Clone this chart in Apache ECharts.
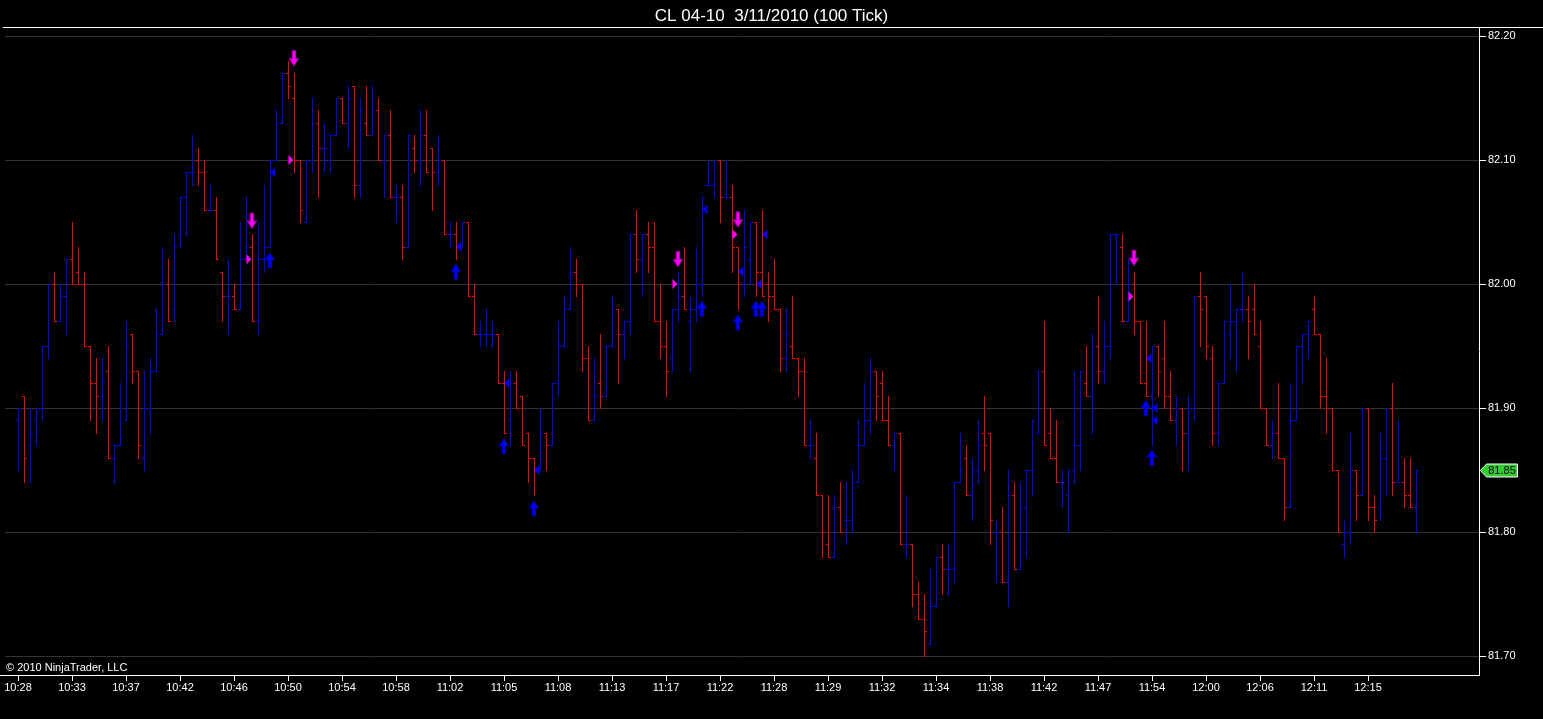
<!DOCTYPE html>
<html>
<head>
<meta charset="utf-8">
<title>CL 04-10 3/11/2010 (100 Tick)</title>
<script src="https://cdn.jsdelivr.net/npm/echarts@6/dist/echarts.min.js"></script>
<style>
  html, body { margin: 0; padding: 0; background: #000; }
  #chart { width: 1543px; height: 719px; }
</style>
</head>
<body>
<div id="chart"></div>
<script>
// 100 tick bars, one entry per bar (bar index = position in array)
var opens = [
  81.89, 81.91, 81.87, 81.89, 81.90, 81.95, 82.00, 81.97, 81.99, 82.02, 82.01, 82.00, 81.95, 81.92, 81.91, 81.93, 81.86, 81.87, 81.89, 81.96,
  81.93, 81.86, 81.90, 81.93, 81.96, 82.00, 81.98, 82.04, 82.07, 82.09, 82.10, 82.09, 82.06, 82.06, 82.01, 81.99, 81.99, 81.98, 82.02, 82.03,
  81.97, 82.02, 82.03, 82.10, 82.13, 82.17, 82.15, 82.10, 82.05, 82.10, 82.13, 82.11, 82.10, 82.12, 82.15, 82.13, 82.16, 82.08, 82.13, 82.12,
  82.14, 82.10, 82.12, 82.07, 82.07, 82.03, 82.11, 82.10, 82.12, 82.11, 82.09, 82.10, 82.04, 82.04, 82.03, 82.05, 81.99, 81.96, 81.96, 81.96,
  81.96, 81.92, 81.89, 81.92, 81.91, 81.88, 81.86, 81.85, 81.88, 81.87, 81.92, 81.95, 81.98, 82.01, 82.00, 81.94, 81.89, 81.92, 81.91, 81.95,
  81.98, 81.96, 81.97, 82.04, 82.02, 82.04, 82.03, 81.97, 81.95, 81.94, 81.98, 81.99, 81.97, 81.98, 82.00, 82.08, 82.08, 82.10, 82.07, 82.07,
  82.03, 82.00, 82.02, 82.05, 82.01, 82.00, 81.99, 81.98, 81.94, 81.95, 81.94, 81.93, 81.87, 81.86, 81.83, 81.79, 81.78, 81.82, 81.81, 81.81,
  81.84, 81.87, 81.89, 81.93, 81.92, 81.89, 81.87, 81.88, 81.79, 81.79, 81.75, 81.73, 81.71, 81.74, 81.78, 81.77, 81.77, 81.84, 81.86, 81.83,
  81.85, 81.88, 81.88, 81.80, 81.80, 81.76, 81.83, 81.77, 81.82, 81.85, 81.88, 81.93, 81.88, 81.86, 81.84, 81.83, 81.85, 81.87, 81.92, 81.91,
  81.95, 81.93, 81.95, 82.04, 82.03, 81.97, 82.00, 81.97, 81.92, 81.91, 81.95, 81.94, 81.91, 81.89, 81.90, 81.88, 81.90, 81.99, 81.99, 81.94,
  81.88, 81.92, 81.96, 81.97, 81.98, 81.98, 81.98, 81.95, 81.90, 81.87, 81.88, 81.86, 81.82, 81.89, 81.95, 81.96, 81.98, 81.96, 81.91, 81.90,
  81.85, 81.79, 81.80, 81.85, 81.83, 81.90, 81.82, 81.82, 81.86, 81.90, 81.84, 81.84, 81.83, 81.82
];
var highs = [
  81.90, 81.91, 81.90, 81.90, 81.95, 82.00, 82.01, 82.00, 82.02, 82.05, 82.03, 82.01, 81.95, 81.94, 81.94, 81.95, 81.87, 81.92, 81.97, 81.96,
  81.93, 81.93, 81.94, 81.98, 82.03, 82.02, 82.04, 82.07, 82.09, 82.12, 82.11, 82.10, 82.08, 82.07, 82.01, 82.02, 82.00, 82.05, 82.07, 82.04,
  82.05, 82.08, 82.10, 82.14, 82.17, 82.18, 82.17, 82.10, 82.10, 82.15, 82.14, 82.13, 82.12, 82.15, 82.15, 82.16, 82.16, 82.15, 82.16, 82.16,
  82.15, 82.12, 82.14, 82.08, 82.08, 82.12, 82.12, 82.14, 82.14, 82.11, 82.12, 82.10, 82.05, 82.05, 82.05, 82.05, 82.00, 81.97, 81.98, 81.97,
  81.96, 81.93, 81.93, 81.93, 81.91, 81.88, 81.86, 81.90, 81.88, 81.92, 81.97, 81.99, 82.03, 82.02, 82.00, 81.95, 81.94, 81.96, 81.95, 81.99,
  81.98, 81.97, 82.04, 82.06, 82.04, 82.05, 82.05, 82.00, 81.97, 81.98, 82.01, 82.03, 81.99, 82.03, 82.07, 82.10, 82.10, 82.10, 82.10, 82.08,
  82.03, 82.06, 82.05, 82.05, 82.06, 82.01, 82.02, 81.98, 81.98, 81.99, 81.94, 81.94, 81.89, 81.88, 81.83, 81.83, 81.83, 81.84, 81.84, 81.85,
  81.89, 81.92, 81.94, 81.93, 81.93, 81.91, 81.88, 81.88, 81.83, 81.79, 81.76, 81.75, 81.77, 81.78, 81.79, 81.79, 81.84, 81.88, 81.87, 81.86,
  81.89, 81.91, 81.88, 81.81, 81.82, 81.85, 81.84, 81.84, 81.85, 81.89, 81.93, 81.97, 81.90, 81.89, 81.85, 81.85, 81.93, 81.93, 81.95, 81.96,
  81.99, 81.97, 82.04, 82.04, 82.04, 82.02, 82.01, 81.97, 81.97, 81.95, 81.95, 81.97, 81.93, 81.91, 81.90, 81.91, 81.99, 82.01, 81.99, 81.95,
  81.92, 81.97, 82.00, 81.98, 82.01, 81.99, 82.00, 81.97, 81.90, 81.89, 81.92, 81.86, 81.92, 81.95, 81.96, 81.97, 81.99, 81.96, 81.94, 81.90,
  81.85, 81.81, 81.88, 81.85, 81.90, 81.90, 81.83, 81.88, 81.90, 81.92, 81.89, 81.86, 81.86, 81.85
];
var lows = [
  81.85, 81.84, 81.84, 81.87, 81.89, 81.94, 81.97, 81.97, 81.96, 82.00, 82.00, 81.95, 81.89, 81.88, 81.89, 81.86, 81.84, 81.87, 81.89, 81.92,
  81.86, 81.85, 81.88, 81.93, 81.96, 81.97, 81.97, 82.03, 82.04, 82.08, 82.08, 82.06, 82.06, 82.02, 81.97, 81.96, 81.98, 81.98, 82.02, 81.97,
  81.96, 82.01, 82.03, 82.10, 82.13, 82.15, 82.09, 82.05, 82.05, 82.09, 82.07, 82.09, 82.09, 82.12, 82.13, 82.11, 82.07, 82.07, 82.12, 82.12,
  82.10, 82.07, 82.07, 82.05, 82.02, 82.03, 82.09, 82.08, 82.09, 82.06, 82.08, 82.04, 82.03, 82.02, 82.03, 81.99, 81.96, 81.95, 81.95, 81.95,
  81.92, 81.88, 81.87, 81.90, 81.87, 81.84, 81.83, 81.85, 81.85, 81.87, 81.91, 81.95, 81.98, 81.99, 81.93, 81.89, 81.89, 81.90, 81.91, 81.95,
  81.92, 81.94, 81.96, 82.01, 81.99, 82.01, 81.97, 81.94, 81.91, 81.93, 81.97, 81.98, 81.93, 81.97, 81.99, 82.08, 82.07, 82.05, 82.07, 82.01,
  81.98, 81.99, 82.00, 81.99, 81.99, 81.97, 81.98, 81.93, 81.93, 81.94, 81.91, 81.87, 81.86, 81.83, 81.78, 81.78, 81.78, 81.80, 81.79, 81.80,
  81.84, 81.87, 81.88, 81.89, 81.89, 81.87, 81.85, 81.79, 81.78, 81.74, 81.73, 81.70, 81.71, 81.74, 81.75, 81.75, 81.76, 81.84, 81.83, 81.81,
  81.84, 81.85, 81.79, 81.76, 81.76, 81.74, 81.77, 81.77, 81.78, 81.83, 81.88, 81.87, 81.86, 81.84, 81.82, 81.80, 81.84, 81.85, 81.91, 81.88,
  81.92, 81.92, 81.94, 82.00, 81.97, 81.97, 81.96, 81.92, 81.91, 81.87, 81.91, 81.90, 81.89, 81.87, 81.85, 81.85, 81.89, 81.95, 81.94, 81.87,
  81.87, 81.92, 81.94, 81.93, 81.97, 81.94, 81.96, 81.90, 81.87, 81.86, 81.86, 81.81, 81.82, 81.89, 81.92, 81.94, 81.96, 81.90, 81.88, 81.85,
  81.80, 81.78, 81.79, 81.81, 81.83, 81.81, 81.80, 81.81, 81.83, 81.83, 81.84, 81.82, 81.82, 81.80
];
var closes = [
  81.90, 81.86, 81.88, 81.90, 81.95, 82.00, 81.97, 81.99, 82.02, 82.00, 82.00, 81.95, 81.92, 81.91, 81.92, 81.86, 81.87, 81.90, 81.95, 81.93,
  81.87, 81.90, 81.93, 81.96, 82.00, 81.97, 82.03, 82.07, 82.09, 82.09, 82.09, 82.06, 82.06, 82.02, 81.99, 81.99, 81.98, 82.02, 82.03, 81.97,
  82.02, 82.03, 82.10, 82.13, 82.17, 82.16, 82.10, 82.06, 82.10, 82.13, 82.11, 82.11, 82.12, 82.15, 82.13, 82.15, 82.08, 82.14, 82.12, 82.14,
  82.10, 82.12, 82.07, 82.07, 82.03, 82.12, 82.10, 82.12, 82.09, 82.09, 82.10, 82.04, 82.04, 82.03, 82.05, 81.99, 81.96, 81.96, 81.96, 81.96,
  81.92, 81.88, 81.92, 81.90, 81.87, 81.86, 81.85, 81.88, 81.87, 81.92, 81.95, 81.98, 82.01, 82.00, 81.94, 81.89, 81.91, 81.91, 81.95, 81.98,
  81.96, 81.97, 82.04, 82.02, 82.04, 82.03, 81.97, 81.95, 81.93, 81.98, 81.99, 81.98, 81.98, 82.00, 82.07, 82.08, 82.10, 82.07, 82.07, 82.03,
  82.00, 82.03, 82.05, 82.01, 81.99, 81.99, 81.98, 81.94, 81.96, 81.94, 81.93, 81.87, 81.87, 81.83, 81.80, 81.78, 81.82, 81.80, 81.81, 81.84,
  81.87, 81.89, 81.93, 81.91, 81.89, 81.87, 81.88, 81.79, 81.79, 81.75, 81.73, 81.72, 81.74, 81.78, 81.77, 81.77, 81.84, 81.85, 81.83, 81.85,
  81.87, 81.87, 81.81, 81.80, 81.76, 81.83, 81.77, 81.82, 81.85, 81.89, 81.93, 81.87, 81.86, 81.84, 81.84, 81.85, 81.87, 81.93, 81.91, 81.95,
  81.93, 81.95, 82.04, 82.04, 81.97, 82.00, 81.97, 81.92, 81.91, 81.95, 81.93, 81.91, 81.89, 81.90, 81.88, 81.90, 81.99, 81.98, 81.95, 81.88,
  81.92, 81.97, 81.97, 81.98, 81.98, 81.97, 81.96, 81.90, 81.87, 81.88, 81.86, 81.82, 81.89, 81.95, 81.96, 81.97, 81.96, 81.91, 81.90, 81.85,
  81.80, 81.80, 81.85, 81.83, 81.90, 81.82, 81.81, 81.86, 81.90, 81.84, 81.84, 81.83, 81.82, 81.85
];

// time labels, one every 9 bars starting at bar 0
var timeLabels = ['10:28', '10:33', '10:37', '10:42', '10:46', '10:50', '10:54', '10:58', '11:02', '11:05', '11:08', '11:13', '11:17',
  '11:22', '11:28', '11:29', '11:32', '11:34', '11:38', '11:42', '11:47', '11:54', '12:00', '12:06', '12:11', '12:15'];
var labelEvery = 9;
var priceTicks = [81.7, 81.8, 81.9, 82.0, 82.1, 82.2];

// strategy markers [bar, price]
var sellArrows = [[39, 82.051], [46, 82.182], [110, 82.020], [120, 82.052], [186, 82.021]];
var sellEntries = [[39, 82.02], [46, 82.10], [110, 82.00], [120, 82.04], [186, 81.99]];
var buyArrows = [[42, 82.019], [73, 82.010], [81, 81.869], [86, 81.819], [114, 81.980], [120, 81.969],
  [123, 81.980], [124, 81.980], [188, 81.900], [189, 81.860]];
var buyEntries = [[42, 82.09], [73, 82.03], [81, 81.92], [86, 81.85], [114, 82.06], [120, 82.01],
  [123, 82.00], [124, 82.04], [188, 81.94], [189, 81.90], [189, 81.89]];

var upColor = '#0000ff', downColor = '#ff0000', magenta = '#ff00ff';
var fontName = 'Liberation Sans, Arial, sans-serif';

var bars = [];
for (var i = 0; i < opens.length; i++) {
  bars.push([i, opens[i], highs[i], lows[i], closes[i]]);
}
var tickVals = [];
for (var k = 0; k < timeLabels.length; k++) tickVals.push(k * labelEvery);

function renderBar(params, api) {
  var idx = api.value(0), o = api.value(1), h = api.value(2), l = api.value(3), c = api.value(4);
  var top = api.coord([idx, h]);
  var bot = api.coord([idx, l]);
  var yo = Math.round(api.coord([idx, o])[1]) + 0.5;
  var yc = Math.round(api.coord([idx, c])[1]) + 0.5;
  var x = Math.round(top[0]) + 0.5;
  var col = c >= o ? upColor : downColor;
  var st = { stroke: col, lineWidth: 1 };
  return {
    type: 'group',
    children: [
      { type: 'line', shape: { x1: x, y1: Math.round(top[1]), x2: x, y2: Math.round(bot[1]) + 1 }, style: st },
      { type: 'line', shape: { x1: x - 2.5, y1: yo, x2: x, y2: yo }, style: st },
      { type: 'line', shape: { x1: x, y1: yc, x2: x + 2.5, y2: yc }, style: st }
    ]
  };
}

var downArrowPath = 'path://M3,0L7,0L7,8L10,8L5,15L0,8L3,8Z';
var upArrowPath = 'path://M5,0L10,7L7,7L7,15L3,15L3,7L0,7Z';
var rightTriPath = 'path://M0,0L5,5L0,10Z';
var leftTriPath = 'path://M5,0L0,5L5,10Z';

var chart = echarts.init(document.getElementById('chart'));
var option = {
  backgroundColor: '#000000',
  animation: false,
  title: {
    text: 'CL 04-10  3/11/2010 (100 Tick)',
    left: 'center',
    top: 3,
    textStyle: { color: '#ffffff', fontSize: 17, fontWeight: 'normal', fontFamily: fontName }
  },
  grid: { left: 5, right: 63, top: 36, bottom: 63 },
  xAxis: {
    type: 'value',
    min: -13 / 6,
    max: (1480 - 18) / 6,
    offset: 19,
    axisLine: { show: false },
    splitLine: { show: false },
    axisTick: { show: true, customValues: tickVals, length: 6, lineStyle: { color: '#ffffff' } },
    axisLabel: {
      customValues: tickVals,
      color: '#ffffff',
      fontSize: 11,
      fontFamily: fontName,
      margin: 7,
      formatter: function (v) { return timeLabels[Math.round(v / labelEvery)] || ''; }
    }
  },
  yAxis: {
    type: 'value',
    position: 'right',
    min: 81.7,
    max: 82.2,
    interval: 0.1,
    axisLine: { show: false },
    axisTick: { show: false },
    splitLine: { show: true, lineStyle: { color: '#333333', width: 1 } },
    axisLabel: {
      color: '#ffffff',
      fontSize: 11,
      fontFamily: fontName,
      margin: 8,
      formatter: function (v) { return v.toFixed(2); }
    }
  },
  series: [
    {
      type: 'custom',
      renderItem: renderBar,
      data: bars,
      encode: { x: 0, y: [1, 2, 3, 4] },
      silent: true,
      z: 2
    },
    {
      type: 'scatter', data: sellArrows, symbol: downArrowPath, symbolSize: [9, 15],
      itemStyle: { color: magenta, borderColor: '#a000a0', borderWidth: 1, opacity: 1 }, silent: true, z: 5
    },
    {
      type: 'scatter', data: buyArrows, symbol: upArrowPath, symbolSize: [9, 15],
      itemStyle: { color: upColor, borderColor: '#0000a0', borderWidth: 1, opacity: 1 }, silent: true, z: 5
    },
    {
      type: 'scatter', data: sellEntries, symbol: rightTriPath, symbolSize: [5, 10], symbolOffset: [-3, 0],
      itemStyle: { color: magenta, opacity: 1 }, silent: true, z: 5
    },
    {
      type: 'scatter', data: buyEntries, symbol: leftTriPath, symbolSize: [5, 10], symbolOffset: [3, 0],
      itemStyle: { color: upColor, opacity: 1 }, silent: true, z: 5
    }
  ]
};
chart.setOption(option);

// frame, price ticks, copyright and last price tag
var white = { stroke: '#ffffff', lineWidth: 1 };
var graphics = [
  { type: 'line', shape: { x1: 3, y1: 27.5, x2: 1543, y2: 27.5 }, style: white, z: 10 },
  { type: 'line', shape: { x1: 1479.5, y1: 27.5, x2: 1479.5, y2: 675.5 }, style: white, z: 10 },
  { type: 'line', shape: { x1: 0, y1: 675.5, x2: 1480, y2: 675.5 }, style: white, z: 10 },
  {
    type: 'text', left: 6, top: 662,
    style: { text: '\u00a9 2010 NinjaTrader, LLC', fill: '#ffffff', font: '11px ' + fontName }, z: 10
  }
];
priceTicks.forEach(function (p) {
  var y = Math.round(chart.convertToPixel({ yAxisIndex: 0 }, p)) + 0.5;
  graphics.push({ type: 'line', shape: { x1: 1480, y1: y, x2: 1486, y2: y }, style: white, z: 10 });
});
var last = closes[closes.length - 1];
var yLast = Math.round(chart.convertToPixel({ yAxisIndex: 0 }, last)) + 0.5;
graphics.push({
  type: 'polygon',
  shape: { points: [[1480.5, yLast], [1486.5, yLast - 6.5], [1517.5, yLast - 6.5], [1517.5, yLast + 6.5], [1486.5, yLast + 6.5]] },
  style: { fill: '#33cc33', stroke: '#ffffff', lineWidth: 1 }, z: 10
});
graphics.push({
  type: 'text', x: 1502, y: yLast, z: 11,
  style: { text: last.toFixed(2), fill: '#000000', font: '11px ' + fontName, textAlign: 'center', textVerticalAlign: 'middle' }
});
chart.setOption({ graphic: graphics });
</script>
</body>
</html>
